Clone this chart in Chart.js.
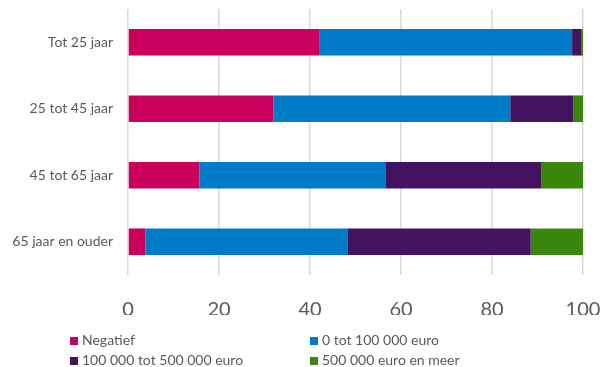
<!DOCTYPE html>
<html>
<head>
<meta charset="utf-8">
<script src="https://cdn.jsdelivr.net/npm/chart.js@4"></script>
<style>
  body { margin: 0; background: #fff; }
  #wrap { position: relative; width: 604px; height: 367px; }
  #legend { position: absolute; left: 70px; top: 332px; width: 520px; font-family: Lato, "Noto Sans", sans-serif; font-size: 14px; color: #595959; }
  .item { position: absolute; white-space: nowrap; line-height: 16px; }
  .box { display: inline-block; width: 8px; height: 8px; margin-right: 4px; vertical-align: 0px; }
</style>
</head>
<body>
<div id="wrap">
  <canvas id="myChart" width="604" height="367"></canvas>
  <div id="legend"></div>
</div>
<script>
// leeftijdsgroepen
const categorieen = ["Tot 25 jaar", "25 tot 45 jaar", "45 tot 65 jaar", "65 jaar en ouder"];
const reeksNamen = ["Negatief", "0 tot 100 000 euro", "100 000 tot 500 000 euro", "500 000 euro en meer"];
const kleuren = ["#CA005D", "#007BC7", "#42145F", "#39870C"];

const negatief = [42.0, 32.0, 15.7, 3.8];
const tot100k = [55.6, 52.0, 41.0, 44.4];
const tot500k = [2.1, 13.9, 34.2, 40.3];
const meer500k = [0.3, 2.1, 9.1, 11.5];

const xTicks = [0, 20, 40, 60, 80, 100];

const reeksen = [negatief, tot100k, tot500k, meer500k];

const ctx = document.getElementById("myChart");

new Chart(ctx, {
    type: "bar",
    data: {
        labels: categorieen,
        datasets: reeksen.map((data, i) => ({
            label: reeksNamen[i],
            data: data,
            backgroundColor: kleuren[i],
            borderWidth: 0,
            barPercentage: 0.4,
            categoryPercentage: 1,
        })),
    },
    options: {
        indexAxis: "y",
        responsive: false,
        animation: false,
        layout: { padding: { top: 9, right: 21, bottom: 52, left: 0 } },
        plugins: {
            legend: { display: false },
            tooltip: { enabled: false },
        },
        scales: {
            x: {
                stacked: true,
                min: 0,
                max: 100,
                afterBuildTicks: (scale) => {
                    scale.ticks = xTicks.map((v) => ({ value: v }));
                },
                afterFit: (scale) => {
                    scale.height = 40;
                    scale.paddingLeft = 0;
                    scale.paddingRight = 0;
                },
                grid: { color: "#d9d9d9", lineWidth: 1.5, drawTicks: false },
                border: { display: false },
                ticks: {
                    color: "#595959",
                    padding: 23,
                    font: { family: "Lato", size: 20 },
                },
            },
            y: {
                stacked: true,
                afterFit: (scale) => {
                    scale.width = 128;
                    scale.paddingTop = 0;
                    scale.paddingBottom = 0;
                },
                grid: { display: false, drawTicks: false },
                border: { display: false },
                ticks: {
                    color: "#595959",
                    padding: 15,
                    font: { family: "Lato", size: 14 },
                },
            },
        },
    },
});

// legenda in twee kolommen
const legend = document.getElementById("legend");
reeksNamen.forEach((naam, i) => {
    const el = document.createElement("div");
    el.className = "item";
    el.style.left = (i % 2) * 240 + "px";
    el.style.top = Math.floor(i / 2) * 20 + "px";
    el.innerHTML = `<span class="box" style="background:${kleuren[i]}"></span>${naam}`;
    legend.appendChild(el);
});
</script>
</body>
</html>
